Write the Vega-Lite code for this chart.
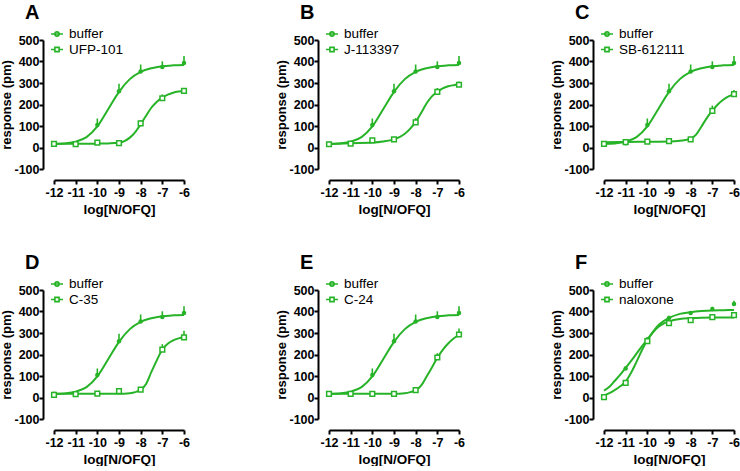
{
  "$schema": "https://vega.github.io/schema/vega-lite/v6.json",
  "padding": {"left": 0, "top": 3, "right": 0, "bottom": 0},
  "datasets": {
    "pts": [
      {"panel": "A", "series": "buffer", "x": -12, "y": 18, "hi": 23},
      {"panel": "A", "series": "buffer", "x": -11, "y": 20, "hi": 25},
      {"panel": "A", "series": "buffer", "x": -10, "y": 105, "hi": 135},
      {"panel": "A", "series": "buffer", "x": -9, "y": 262, "hi": 297},
      {"panel": "A", "series": "buffer", "x": -8, "y": 353, "hi": 386},
      {"panel": "A", "series": "buffer", "x": -7, "y": 374, "hi": 401},
      {"panel": "A", "series": "buffer", "x": -6, "y": 393, "hi": 425},
      {"panel": "A", "series": "UFP-101", "x": -12, "y": 17, "hi": 20},
      {"panel": "A", "series": "UFP-101", "x": -11, "y": 16, "hi": 19},
      {"panel": "A", "series": "UFP-101", "x": -10, "y": 23, "hi": 31},
      {"panel": "A", "series": "UFP-101", "x": -9, "y": 20, "hi": 24},
      {"panel": "A", "series": "UFP-101", "x": -8, "y": 112, "hi": 127},
      {"panel": "A", "series": "UFP-101", "x": -7, "y": 229, "hi": 247},
      {"panel": "A", "series": "UFP-101", "x": -6, "y": 263, "hi": 271},
      {"panel": "B", "series": "buffer", "x": -12, "y": 18, "hi": 23},
      {"panel": "B", "series": "buffer", "x": -11, "y": 20, "hi": 25},
      {"panel": "B", "series": "buffer", "x": -10, "y": 105, "hi": 135},
      {"panel": "B", "series": "buffer", "x": -9, "y": 262, "hi": 297},
      {"panel": "B", "series": "buffer", "x": -8, "y": 353, "hi": 386},
      {"panel": "B", "series": "buffer", "x": -7, "y": 374, "hi": 401},
      {"panel": "B", "series": "buffer", "x": -6, "y": 393, "hi": 425},
      {"panel": "B", "series": "J-113397", "x": -12, "y": 15, "hi": 18},
      {"panel": "B", "series": "J-113397", "x": -11, "y": 18, "hi": 21},
      {"panel": "B", "series": "J-113397", "x": -10, "y": 33, "hi": 45},
      {"panel": "B", "series": "J-113397", "x": -9, "y": 38, "hi": 43},
      {"panel": "B", "series": "J-113397", "x": -8, "y": 117, "hi": 137},
      {"panel": "B", "series": "J-113397", "x": -7, "y": 259, "hi": 277},
      {"panel": "B", "series": "J-113397", "x": -6, "y": 292, "hi": 307},
      {"panel": "C", "series": "buffer", "x": -12, "y": 18, "hi": 23},
      {"panel": "C", "series": "buffer", "x": -11, "y": 20, "hi": 25},
      {"panel": "C", "series": "buffer", "x": -10, "y": 105, "hi": 135},
      {"panel": "C", "series": "buffer", "x": -9, "y": 262, "hi": 297},
      {"panel": "C", "series": "buffer", "x": -8, "y": 353, "hi": 386},
      {"panel": "C", "series": "buffer", "x": -7, "y": 374, "hi": 401},
      {"panel": "C", "series": "buffer", "x": -6, "y": 393, "hi": 425},
      {"panel": "C", "series": "SB-612111", "x": -12, "y": 17, "hi": 20},
      {"panel": "C", "series": "SB-612111", "x": -11, "y": 25, "hi": 30},
      {"panel": "C", "series": "SB-612111", "x": -10, "y": 27, "hi": 31},
      {"panel": "C", "series": "SB-612111", "x": -9, "y": 30, "hi": 35},
      {"panel": "C", "series": "SB-612111", "x": -8, "y": 38, "hi": 48},
      {"panel": "C", "series": "SB-612111", "x": -7, "y": 170, "hi": 195},
      {"panel": "C", "series": "SB-612111", "x": -6, "y": 248, "hi": 268},
      {"panel": "D", "series": "buffer", "x": -12, "y": 18, "hi": 23},
      {"panel": "D", "series": "buffer", "x": -11, "y": 20, "hi": 25},
      {"panel": "D", "series": "buffer", "x": -10, "y": 105, "hi": 135},
      {"panel": "D", "series": "buffer", "x": -9, "y": 262, "hi": 297},
      {"panel": "D", "series": "buffer", "x": -8, "y": 353, "hi": 386},
      {"panel": "D", "series": "buffer", "x": -7, "y": 374, "hi": 401},
      {"panel": "D", "series": "buffer", "x": -6, "y": 393, "hi": 425},
      {"panel": "D", "series": "C-35", "x": -12, "y": 12, "hi": 17},
      {"panel": "D", "series": "C-35", "x": -11, "y": 16, "hi": 20},
      {"panel": "D", "series": "C-35", "x": -10, "y": 18, "hi": 22},
      {"panel": "D", "series": "C-35", "x": -9, "y": 30, "hi": 38},
      {"panel": "D", "series": "C-35", "x": -8, "y": 37, "hi": 43},
      {"panel": "D", "series": "C-35", "x": -7, "y": 223, "hi": 248},
      {"panel": "D", "series": "C-35", "x": -6, "y": 280, "hi": 310},
      {"panel": "E", "series": "buffer", "x": -12, "y": 18, "hi": 23},
      {"panel": "E", "series": "buffer", "x": -11, "y": 20, "hi": 25},
      {"panel": "E", "series": "buffer", "x": -10, "y": 105, "hi": 135},
      {"panel": "E", "series": "buffer", "x": -9, "y": 262, "hi": 297},
      {"panel": "E", "series": "buffer", "x": -8, "y": 353, "hi": 386},
      {"panel": "E", "series": "buffer", "x": -7, "y": 374, "hi": 401},
      {"panel": "E", "series": "buffer", "x": -6, "y": 393, "hi": 425},
      {"panel": "E", "series": "C-24", "x": -12, "y": 17, "hi": 21},
      {"panel": "E", "series": "C-24", "x": -11, "y": 17, "hi": 20},
      {"panel": "E", "series": "C-24", "x": -10, "y": 17, "hi": 20},
      {"panel": "E", "series": "C-24", "x": -9, "y": 17, "hi": 20},
      {"panel": "E", "series": "C-24", "x": -8, "y": 34, "hi": 40},
      {"panel": "E", "series": "C-24", "x": -7, "y": 186, "hi": 206},
      {"panel": "E", "series": "C-24", "x": -6, "y": 293, "hi": 321},
      {"panel": "F", "series": "buffer", "x": -12, "y": 3, "hi": 6},
      {"panel": "F", "series": "buffer", "x": -11, "y": 135, "hi": 145},
      {"panel": "F", "series": "buffer", "x": -10, "y": 270, "hi": 280},
      {"panel": "F", "series": "buffer", "x": -9, "y": 370, "hi": 380},
      {"panel": "F", "series": "buffer", "x": -8, "y": 393, "hi": 401},
      {"panel": "F", "series": "buffer", "x": -7, "y": 412, "hi": 422},
      {"panel": "F", "series": "buffer", "x": -6, "y": 435, "hi": 450},
      {"panel": "F", "series": "naloxone", "x": -12, "y": 2, "hi": 5},
      {"panel": "F", "series": "naloxone", "x": -11, "y": 68, "hi": 78},
      {"panel": "F", "series": "naloxone", "x": -10, "y": 262, "hi": 272},
      {"panel": "F", "series": "naloxone", "x": -9, "y": 346, "hi": 352},
      {"panel": "F", "series": "naloxone", "x": -8, "y": 360, "hi": 366},
      {"panel": "F", "series": "naloxone", "x": -7, "y": 374, "hi": 379},
      {"panel": "F", "series": "naloxone", "x": -6, "y": 383, "hi": 389}
    ],
    "crv": [
      {"panel": "A", "series": "buffer", "x": -12, "y": 16},
      {"panel": "A", "series": "buffer", "x": -11.5, "y": 19},
      {"panel": "A", "series": "buffer", "x": -11, "y": 27},
      {"panel": "A", "series": "buffer", "x": -10.5, "y": 48},
      {"panel": "A", "series": "buffer", "x": -10, "y": 98},
      {"panel": "A", "series": "buffer", "x": -9.5, "y": 178},
      {"panel": "A", "series": "buffer", "x": -9, "y": 259},
      {"panel": "A", "series": "buffer", "x": -8.5, "y": 318},
      {"panel": "A", "series": "buffer", "x": -8, "y": 352},
      {"panel": "A", "series": "buffer", "x": -7.5, "y": 369},
      {"panel": "A", "series": "buffer", "x": -7, "y": 378},
      {"panel": "A", "series": "buffer", "x": -6.5, "y": 382},
      {"panel": "A", "series": "buffer", "x": -6, "y": 384},
      {"panel": "A", "series": "UFP-101", "x": -12, "y": 17},
      {"panel": "A", "series": "UFP-101", "x": -11, "y": 17},
      {"panel": "A", "series": "UFP-101", "x": -10, "y": 18},
      {"panel": "A", "series": "UFP-101", "x": -9.5, "y": 19},
      {"panel": "A", "series": "UFP-101", "x": -9, "y": 22},
      {"panel": "A", "series": "UFP-101", "x": -8.75, "y": 30},
      {"panel": "A", "series": "UFP-101", "x": -8.5, "y": 46},
      {"panel": "A", "series": "UFP-101", "x": -8.25, "y": 72},
      {"panel": "A", "series": "UFP-101", "x": -8, "y": 108},
      {"panel": "A", "series": "UFP-101", "x": -7.75, "y": 148},
      {"panel": "A", "series": "UFP-101", "x": -7.5, "y": 186},
      {"panel": "A", "series": "UFP-101", "x": -7.25, "y": 213},
      {"panel": "A", "series": "UFP-101", "x": -7, "y": 232},
      {"panel": "A", "series": "UFP-101", "x": -6.75, "y": 246},
      {"panel": "A", "series": "UFP-101", "x": -6.5, "y": 255},
      {"panel": "A", "series": "UFP-101", "x": -6.25, "y": 260},
      {"panel": "A", "series": "UFP-101", "x": -6, "y": 263},
      {"panel": "B", "series": "buffer", "x": -12, "y": 16},
      {"panel": "B", "series": "buffer", "x": -11.5, "y": 19},
      {"panel": "B", "series": "buffer", "x": -11, "y": 27},
      {"panel": "B", "series": "buffer", "x": -10.5, "y": 48},
      {"panel": "B", "series": "buffer", "x": -10, "y": 98},
      {"panel": "B", "series": "buffer", "x": -9.5, "y": 178},
      {"panel": "B", "series": "buffer", "x": -9, "y": 259},
      {"panel": "B", "series": "buffer", "x": -8.5, "y": 318},
      {"panel": "B", "series": "buffer", "x": -8, "y": 352},
      {"panel": "B", "series": "buffer", "x": -7.5, "y": 369},
      {"panel": "B", "series": "buffer", "x": -7, "y": 378},
      {"panel": "B", "series": "buffer", "x": -6.5, "y": 382},
      {"panel": "B", "series": "buffer", "x": -6, "y": 384},
      {"panel": "B", "series": "J-113397", "x": -12, "y": 16},
      {"panel": "B", "series": "J-113397", "x": -11, "y": 20},
      {"panel": "B", "series": "J-113397", "x": -10, "y": 23},
      {"panel": "B", "series": "J-113397", "x": -9.5, "y": 28},
      {"panel": "B", "series": "J-113397", "x": -9, "y": 38},
      {"panel": "B", "series": "J-113397", "x": -8.75, "y": 48},
      {"panel": "B", "series": "J-113397", "x": -8.5, "y": 64},
      {"panel": "B", "series": "J-113397", "x": -8.25, "y": 88},
      {"panel": "B", "series": "J-113397", "x": -8, "y": 119},
      {"panel": "B", "series": "J-113397", "x": -7.75, "y": 160},
      {"panel": "B", "series": "J-113397", "x": -7.5, "y": 205},
      {"panel": "B", "series": "J-113397", "x": -7.25, "y": 238},
      {"panel": "B", "series": "J-113397", "x": -7, "y": 259},
      {"panel": "B", "series": "J-113397", "x": -6.75, "y": 275},
      {"panel": "B", "series": "J-113397", "x": -6.5, "y": 285},
      {"panel": "B", "series": "J-113397", "x": -6.25, "y": 290},
      {"panel": "B", "series": "J-113397", "x": -6, "y": 294},
      {"panel": "C", "series": "buffer", "x": -12, "y": 16},
      {"panel": "C", "series": "buffer", "x": -11.5, "y": 19},
      {"panel": "C", "series": "buffer", "x": -11, "y": 27},
      {"panel": "C", "series": "buffer", "x": -10.5, "y": 48},
      {"panel": "C", "series": "buffer", "x": -10, "y": 98},
      {"panel": "C", "series": "buffer", "x": -9.5, "y": 178},
      {"panel": "C", "series": "buffer", "x": -9, "y": 259},
      {"panel": "C", "series": "buffer", "x": -8.5, "y": 318},
      {"panel": "C", "series": "buffer", "x": -8, "y": 352},
      {"panel": "C", "series": "buffer", "x": -7.5, "y": 369},
      {"panel": "C", "series": "buffer", "x": -7, "y": 378},
      {"panel": "C", "series": "buffer", "x": -6.5, "y": 382},
      {"panel": "C", "series": "buffer", "x": -6, "y": 384},
      {"panel": "C", "series": "SB-612111", "x": -12, "y": 24},
      {"panel": "C", "series": "SB-612111", "x": -11, "y": 26},
      {"panel": "C", "series": "SB-612111", "x": -10, "y": 27},
      {"panel": "C", "series": "SB-612111", "x": -9, "y": 28},
      {"panel": "C", "series": "SB-612111", "x": -8.5, "y": 31},
      {"panel": "C", "series": "SB-612111", "x": -8.25, "y": 35},
      {"panel": "C", "series": "SB-612111", "x": -8, "y": 41},
      {"panel": "C", "series": "SB-612111", "x": -7.75, "y": 60},
      {"panel": "C", "series": "SB-612111", "x": -7.5, "y": 98},
      {"panel": "C", "series": "SB-612111", "x": -7.25, "y": 138},
      {"panel": "C", "series": "SB-612111", "x": -7, "y": 171},
      {"panel": "C", "series": "SB-612111", "x": -6.75, "y": 200},
      {"panel": "C", "series": "SB-612111", "x": -6.5, "y": 222},
      {"panel": "C", "series": "SB-612111", "x": -6.25, "y": 238},
      {"panel": "C", "series": "SB-612111", "x": -6, "y": 248},
      {"panel": "D", "series": "buffer", "x": -12, "y": 16},
      {"panel": "D", "series": "buffer", "x": -11.5, "y": 19},
      {"panel": "D", "series": "buffer", "x": -11, "y": 27},
      {"panel": "D", "series": "buffer", "x": -10.5, "y": 48},
      {"panel": "D", "series": "buffer", "x": -10, "y": 98},
      {"panel": "D", "series": "buffer", "x": -9.5, "y": 178},
      {"panel": "D", "series": "buffer", "x": -9, "y": 259},
      {"panel": "D", "series": "buffer", "x": -8.5, "y": 318},
      {"panel": "D", "series": "buffer", "x": -8, "y": 352},
      {"panel": "D", "series": "buffer", "x": -7.5, "y": 369},
      {"panel": "D", "series": "buffer", "x": -7, "y": 378},
      {"panel": "D", "series": "buffer", "x": -6.5, "y": 382},
      {"panel": "D", "series": "buffer", "x": -6, "y": 384},
      {"panel": "D", "series": "C-35", "x": -12, "y": 17},
      {"panel": "D", "series": "C-35", "x": -10, "y": 17},
      {"panel": "D", "series": "C-35", "x": -9, "y": 17},
      {"panel": "D", "series": "C-35", "x": -8.5, "y": 20},
      {"panel": "D", "series": "C-35", "x": -8.25, "y": 25},
      {"panel": "D", "series": "C-35", "x": -8, "y": 36},
      {"panel": "D", "series": "C-35", "x": -7.75, "y": 63},
      {"panel": "D", "series": "C-35", "x": -7.5, "y": 120},
      {"panel": "D", "series": "C-35", "x": -7.25, "y": 174},
      {"panel": "D", "series": "C-35", "x": -7, "y": 223},
      {"panel": "D", "series": "C-35", "x": -6.75, "y": 250},
      {"panel": "D", "series": "C-35", "x": -6.5, "y": 266},
      {"panel": "D", "series": "C-35", "x": -6.25, "y": 275},
      {"panel": "D", "series": "C-35", "x": -6, "y": 280},
      {"panel": "E", "series": "buffer", "x": -12, "y": 16},
      {"panel": "E", "series": "buffer", "x": -11.5, "y": 19},
      {"panel": "E", "series": "buffer", "x": -11, "y": 27},
      {"panel": "E", "series": "buffer", "x": -10.5, "y": 48},
      {"panel": "E", "series": "buffer", "x": -10, "y": 98},
      {"panel": "E", "series": "buffer", "x": -9.5, "y": 178},
      {"panel": "E", "series": "buffer", "x": -9, "y": 259},
      {"panel": "E", "series": "buffer", "x": -8.5, "y": 318},
      {"panel": "E", "series": "buffer", "x": -8, "y": 352},
      {"panel": "E", "series": "buffer", "x": -7.5, "y": 369},
      {"panel": "E", "series": "buffer", "x": -7, "y": 378},
      {"panel": "E", "series": "buffer", "x": -6.5, "y": 382},
      {"panel": "E", "series": "buffer", "x": -6, "y": 384},
      {"panel": "E", "series": "C-24", "x": -12, "y": 17},
      {"panel": "E", "series": "C-24", "x": -10, "y": 17},
      {"panel": "E", "series": "C-24", "x": -9, "y": 17},
      {"panel": "E", "series": "C-24", "x": -8.5, "y": 20},
      {"panel": "E", "series": "C-24", "x": -8.25, "y": 25},
      {"panel": "E", "series": "C-24", "x": -8, "y": 33},
      {"panel": "E", "series": "C-24", "x": -7.75, "y": 55},
      {"panel": "E", "series": "C-24", "x": -7.5, "y": 97},
      {"panel": "E", "series": "C-24", "x": -7.25, "y": 140},
      {"panel": "E", "series": "C-24", "x": -7, "y": 185},
      {"panel": "E", "series": "C-24", "x": -6.75, "y": 222},
      {"panel": "E", "series": "C-24", "x": -6.5, "y": 251},
      {"panel": "E", "series": "C-24", "x": -6.25, "y": 274},
      {"panel": "E", "series": "C-24", "x": -6, "y": 292},
      {"panel": "F", "series": "buffer", "x": -12, "y": 32},
      {"panel": "F", "series": "buffer", "x": -11.75, "y": 50},
      {"panel": "F", "series": "buffer", "x": -11.5, "y": 78},
      {"panel": "F", "series": "buffer", "x": -11.25, "y": 106},
      {"panel": "F", "series": "buffer", "x": -11, "y": 138},
      {"panel": "F", "series": "buffer", "x": -10.75, "y": 170},
      {"panel": "F", "series": "buffer", "x": -10.5, "y": 204},
      {"panel": "F", "series": "buffer", "x": -10.25, "y": 238},
      {"panel": "F", "series": "buffer", "x": -10, "y": 269},
      {"panel": "F", "series": "buffer", "x": -9.75, "y": 304},
      {"panel": "F", "series": "buffer", "x": -9.5, "y": 335},
      {"panel": "F", "series": "buffer", "x": -9.25, "y": 355},
      {"panel": "F", "series": "buffer", "x": -9, "y": 370},
      {"panel": "F", "series": "buffer", "x": -8.5, "y": 389},
      {"panel": "F", "series": "buffer", "x": -8, "y": 397},
      {"panel": "F", "series": "buffer", "x": -7.5, "y": 402},
      {"panel": "F", "series": "buffer", "x": -7, "y": 405},
      {"panel": "F", "series": "buffer", "x": -6.5, "y": 406},
      {"panel": "F", "series": "buffer", "x": -6, "y": 407},
      {"panel": "F", "series": "naloxone", "x": -12, "y": 10},
      {"panel": "F", "series": "naloxone", "x": -11.75, "y": 20},
      {"panel": "F", "series": "naloxone", "x": -11.5, "y": 35},
      {"panel": "F", "series": "naloxone", "x": -11.25, "y": 52},
      {"panel": "F", "series": "naloxone", "x": -11, "y": 74},
      {"panel": "F", "series": "naloxone", "x": -10.75, "y": 115},
      {"panel": "F", "series": "naloxone", "x": -10.5, "y": 166},
      {"panel": "F", "series": "naloxone", "x": -10.25, "y": 220},
      {"panel": "F", "series": "naloxone", "x": -10, "y": 266},
      {"panel": "F", "series": "naloxone", "x": -9.75, "y": 302},
      {"panel": "F", "series": "naloxone", "x": -9.5, "y": 328},
      {"panel": "F", "series": "naloxone", "x": -9.25, "y": 344},
      {"panel": "F", "series": "naloxone", "x": -9, "y": 354},
      {"panel": "F", "series": "naloxone", "x": -8.5, "y": 365},
      {"panel": "F", "series": "naloxone", "x": -8, "y": 369},
      {"panel": "F", "series": "naloxone", "x": -7, "y": 372},
      {"panel": "F", "series": "naloxone", "x": -6, "y": 372}
    ]
  },
  "columns": 3,
  "spacing": {"row": 37, "column": 85},
  "resolve": {
    "scale": {"x": "independent", "y": "independent", "shape": "independent"},
    "legend": {"shape": "independent"}
  },
  "concat": [
    {
      "title": {"text": "A"},
      "width": 130, "height": 129,
      "encoding": {
        "x": {"field": "x", "type": "quantitative", "scale": {"domain": [-12, -6], "nice": false, "zero": false}, "axis": {"title": "log[N/OFQ]", "values": [-12, -11, -10, -9, -8, -7, -6]}},
        "y": {"field": "y", "type": "quantitative", "scale": {"domain": [-100, 500], "nice": false}, "axis": {"title": "response (pm)", "values": [-100, 0, 100, 200, 300, 400, 500]}}
      },
      "layer": [
        {"data": {"name": "crv"}, "transform": [{"filter": "datum.panel == 'A'"}], "mark": {"type": "line", "color": "#27b327", "strokeWidth": 2, "interpolate": "monotone"}, "encoding": {"detail": {"field": "series"}}},
        {"data": {"name": "pts"}, "transform": [{"filter": "datum.panel == 'A'"}], "mark": {"type": "rule", "color": "#27b327", "strokeWidth": 1.6}, "encoding": {"y2": {"field": "hi"}}},
        {"data": {"name": "pts"}, "transform": [{"filter": "datum.panel == 'A' && datum.series == 'buffer'"}], "mark": {"type": "point", "shape": "circle", "filled": true, "color": "#27b327", "size": 20, "opacity": 1}},
        {"data": {"name": "pts"}, "transform": [{"filter": "datum.panel == 'A' && datum.series != 'buffer'"}], "mark": {"type": "point", "shape": "square", "fill": "white", "stroke": "#27b327", "strokeWidth": 1.5, "size": 22, "opacity": 1}},
        {"data": {"name": "pts"}, "transform": [{"filter": "datum.panel == 'A'"}], "mark": {"type": "point", "opacity": 0, "stroke": "#27b327"},
         "encoding": {
           "shape": {"field": "series", "type": "nominal", "scale": {"domain": ["buffer", "UFP-101"], "range": ["M-1,0H1M-0.35,0A0.35,0.35,0,1,1,0.35,0A0.35,0.35,0,1,1,-0.35,0Z", "M-1,0H-0.35M0.35,0H1M-0.35,-0.35H0.35V0.35H-0.35Z"]},
             "legend": {"title": null, "orient": "none", "legendX": -4, "legendY": -13,
               "encode": {"symbols": {"update": {"opacity": {"value": 1}, "size": {"value": 144}, "stroke": {"value": "#27b327"}, "strokeWidth": {"value": 1.6},
                 "fill": {"signal": "datum.value === 'buffer' ? '#27b327' : 'white'"},
                 "shape": {"signal": "datum.value === 'buffer' ? 'M-1,0H1M-0.35,0A0.35,0.35,0,1,1,0.35,0A0.35,0.35,0,1,1,-0.35,0Z' : 'M-1,0H-0.35M0.35,0H1M-0.35,-0.35H0.35V0.35H-0.35Z'"}}}}}}
         }}
      ]
    },
    {
      "title": {"text": "B"},
      "width": 130, "height": 129,
      "encoding": {
        "x": {"field": "x", "type": "quantitative", "scale": {"domain": [-12, -6], "nice": false, "zero": false}, "axis": {"title": "log[N/OFQ]", "values": [-12, -11, -10, -9, -8, -7, -6]}},
        "y": {"field": "y", "type": "quantitative", "scale": {"domain": [-100, 500], "nice": false}, "axis": {"title": "response (pm)", "values": [-100, 0, 100, 200, 300, 400, 500]}}
      },
      "layer": [
        {"data": {"name": "crv"}, "transform": [{"filter": "datum.panel == 'B'"}], "mark": {"type": "line", "color": "#27b327", "strokeWidth": 2, "interpolate": "monotone"}, "encoding": {"detail": {"field": "series"}}},
        {"data": {"name": "pts"}, "transform": [{"filter": "datum.panel == 'B'"}], "mark": {"type": "rule", "color": "#27b327", "strokeWidth": 1.6}, "encoding": {"y2": {"field": "hi"}}},
        {"data": {"name": "pts"}, "transform": [{"filter": "datum.panel == 'B' && datum.series == 'buffer'"}], "mark": {"type": "point", "shape": "circle", "filled": true, "color": "#27b327", "size": 20, "opacity": 1}},
        {"data": {"name": "pts"}, "transform": [{"filter": "datum.panel == 'B' && datum.series != 'buffer'"}], "mark": {"type": "point", "shape": "square", "fill": "white", "stroke": "#27b327", "strokeWidth": 1.5, "size": 22, "opacity": 1}},
        {"data": {"name": "pts"}, "transform": [{"filter": "datum.panel == 'B'"}], "mark": {"type": "point", "opacity": 0, "stroke": "#27b327"},
         "encoding": {
           "shape": {"field": "series", "type": "nominal", "scale": {"domain": ["buffer", "J-113397"], "range": ["M-1,0H1M-0.35,0A0.35,0.35,0,1,1,0.35,0A0.35,0.35,0,1,1,-0.35,0Z", "M-1,0H-0.35M0.35,0H1M-0.35,-0.35H0.35V0.35H-0.35Z"]},
             "legend": {"title": null, "orient": "none", "legendX": -4, "legendY": -13,
               "encode": {"symbols": {"update": {"opacity": {"value": 1}, "size": {"value": 144}, "stroke": {"value": "#27b327"}, "strokeWidth": {"value": 1.6},
                 "fill": {"signal": "datum.value === 'buffer' ? '#27b327' : 'white'"},
                 "shape": {"signal": "datum.value === 'buffer' ? 'M-1,0H1M-0.35,0A0.35,0.35,0,1,1,0.35,0A0.35,0.35,0,1,1,-0.35,0Z' : 'M-1,0H-0.35M0.35,0H1M-0.35,-0.35H0.35V0.35H-0.35Z'"}}}}}}
         }}
      ]
    },
    {
      "title": {"text": "C"},
      "width": 130, "height": 129,
      "encoding": {
        "x": {"field": "x", "type": "quantitative", "scale": {"domain": [-12, -6], "nice": false, "zero": false}, "axis": {"title": "log[N/OFQ]", "values": [-12, -11, -10, -9, -8, -7, -6]}},
        "y": {"field": "y", "type": "quantitative", "scale": {"domain": [-100, 500], "nice": false}, "axis": {"title": "response (pm)", "values": [-100, 0, 100, 200, 300, 400, 500]}}
      },
      "layer": [
        {"data": {"name": "crv"}, "transform": [{"filter": "datum.panel == 'C'"}], "mark": {"type": "line", "color": "#27b327", "strokeWidth": 2, "interpolate": "monotone"}, "encoding": {"detail": {"field": "series"}}},
        {"data": {"name": "pts"}, "transform": [{"filter": "datum.panel == 'C'"}], "mark": {"type": "rule", "color": "#27b327", "strokeWidth": 1.6}, "encoding": {"y2": {"field": "hi"}}},
        {"data": {"name": "pts"}, "transform": [{"filter": "datum.panel == 'C' && datum.series == 'buffer'"}], "mark": {"type": "point", "shape": "circle", "filled": true, "color": "#27b327", "size": 20, "opacity": 1}},
        {"data": {"name": "pts"}, "transform": [{"filter": "datum.panel == 'C' && datum.series != 'buffer'"}], "mark": {"type": "point", "shape": "square", "fill": "white", "stroke": "#27b327", "strokeWidth": 1.5, "size": 22, "opacity": 1}},
        {"data": {"name": "pts"}, "transform": [{"filter": "datum.panel == 'C'"}], "mark": {"type": "point", "opacity": 0, "stroke": "#27b327"},
         "encoding": {
           "shape": {"field": "series", "type": "nominal", "scale": {"domain": ["buffer", "SB-612111"], "range": ["M-1,0H1M-0.35,0A0.35,0.35,0,1,1,0.35,0A0.35,0.35,0,1,1,-0.35,0Z", "M-1,0H-0.35M0.35,0H1M-0.35,-0.35H0.35V0.35H-0.35Z"]},
             "legend": {"title": null, "orient": "none", "legendX": -4, "legendY": -13,
               "encode": {"symbols": {"update": {"opacity": {"value": 1}, "size": {"value": 144}, "stroke": {"value": "#27b327"}, "strokeWidth": {"value": 1.6},
                 "fill": {"signal": "datum.value === 'buffer' ? '#27b327' : 'white'"},
                 "shape": {"signal": "datum.value === 'buffer' ? 'M-1,0H1M-0.35,0A0.35,0.35,0,1,1,0.35,0A0.35,0.35,0,1,1,-0.35,0Z' : 'M-1,0H-0.35M0.35,0H1M-0.35,-0.35H0.35V0.35H-0.35Z'"}}}}}}
         }}
      ]
    },
    {
      "title": {"text": "D"},
      "width": 130, "height": 129,
      "encoding": {
        "x": {"field": "x", "type": "quantitative", "scale": {"domain": [-12, -6], "nice": false, "zero": false}, "axis": {"title": "log[N/OFQ]", "values": [-12, -11, -10, -9, -8, -7, -6]}},
        "y": {"field": "y", "type": "quantitative", "scale": {"domain": [-100, 500], "nice": false}, "axis": {"title": "response (pm)", "values": [-100, 0, 100, 200, 300, 400, 500]}}
      },
      "layer": [
        {"data": {"name": "crv"}, "transform": [{"filter": "datum.panel == 'D'"}], "mark": {"type": "line", "color": "#27b327", "strokeWidth": 2, "interpolate": "monotone"}, "encoding": {"detail": {"field": "series"}}},
        {"data": {"name": "pts"}, "transform": [{"filter": "datum.panel == 'D'"}], "mark": {"type": "rule", "color": "#27b327", "strokeWidth": 1.6}, "encoding": {"y2": {"field": "hi"}}},
        {"data": {"name": "pts"}, "transform": [{"filter": "datum.panel == 'D' && datum.series == 'buffer'"}], "mark": {"type": "point", "shape": "circle", "filled": true, "color": "#27b327", "size": 20, "opacity": 1}},
        {"data": {"name": "pts"}, "transform": [{"filter": "datum.panel == 'D' && datum.series != 'buffer'"}], "mark": {"type": "point", "shape": "square", "fill": "white", "stroke": "#27b327", "strokeWidth": 1.5, "size": 22, "opacity": 1}},
        {"data": {"name": "pts"}, "transform": [{"filter": "datum.panel == 'D'"}], "mark": {"type": "point", "opacity": 0, "stroke": "#27b327"},
         "encoding": {
           "shape": {"field": "series", "type": "nominal", "scale": {"domain": ["buffer", "C-35"], "range": ["M-1,0H1M-0.35,0A0.35,0.35,0,1,1,0.35,0A0.35,0.35,0,1,1,-0.35,0Z", "M-1,0H-0.35M0.35,0H1M-0.35,-0.35H0.35V0.35H-0.35Z"]},
             "legend": {"title": null, "orient": "none", "legendX": -4, "legendY": -13,
               "encode": {"symbols": {"update": {"opacity": {"value": 1}, "size": {"value": 144}, "stroke": {"value": "#27b327"}, "strokeWidth": {"value": 1.6},
                 "fill": {"signal": "datum.value === 'buffer' ? '#27b327' : 'white'"},
                 "shape": {"signal": "datum.value === 'buffer' ? 'M-1,0H1M-0.35,0A0.35,0.35,0,1,1,0.35,0A0.35,0.35,0,1,1,-0.35,0Z' : 'M-1,0H-0.35M0.35,0H1M-0.35,-0.35H0.35V0.35H-0.35Z'"}}}}}}
         }}
      ]
    },
    {
      "title": {"text": "E"},
      "width": 130, "height": 129,
      "encoding": {
        "x": {"field": "x", "type": "quantitative", "scale": {"domain": [-12, -6], "nice": false, "zero": false}, "axis": {"title": "log[N/OFQ]", "values": [-12, -11, -10, -9, -8, -7, -6]}},
        "y": {"field": "y", "type": "quantitative", "scale": {"domain": [-100, 500], "nice": false}, "axis": {"title": "response (pm)", "values": [-100, 0, 100, 200, 300, 400, 500]}}
      },
      "layer": [
        {"data": {"name": "crv"}, "transform": [{"filter": "datum.panel == 'E'"}], "mark": {"type": "line", "color": "#27b327", "strokeWidth": 2, "interpolate": "monotone"}, "encoding": {"detail": {"field": "series"}}},
        {"data": {"name": "pts"}, "transform": [{"filter": "datum.panel == 'E'"}], "mark": {"type": "rule", "color": "#27b327", "strokeWidth": 1.6}, "encoding": {"y2": {"field": "hi"}}},
        {"data": {"name": "pts"}, "transform": [{"filter": "datum.panel == 'E' && datum.series == 'buffer'"}], "mark": {"type": "point", "shape": "circle", "filled": true, "color": "#27b327", "size": 20, "opacity": 1}},
        {"data": {"name": "pts"}, "transform": [{"filter": "datum.panel == 'E' && datum.series != 'buffer'"}], "mark": {"type": "point", "shape": "square", "fill": "white", "stroke": "#27b327", "strokeWidth": 1.5, "size": 22, "opacity": 1}},
        {"data": {"name": "pts"}, "transform": [{"filter": "datum.panel == 'E'"}], "mark": {"type": "point", "opacity": 0, "stroke": "#27b327"},
         "encoding": {
           "shape": {"field": "series", "type": "nominal", "scale": {"domain": ["buffer", "C-24"], "range": ["M-1,0H1M-0.35,0A0.35,0.35,0,1,1,0.35,0A0.35,0.35,0,1,1,-0.35,0Z", "M-1,0H-0.35M0.35,0H1M-0.35,-0.35H0.35V0.35H-0.35Z"]},
             "legend": {"title": null, "orient": "none", "legendX": -4, "legendY": -13,
               "encode": {"symbols": {"update": {"opacity": {"value": 1}, "size": {"value": 144}, "stroke": {"value": "#27b327"}, "strokeWidth": {"value": 1.6},
                 "fill": {"signal": "datum.value === 'buffer' ? '#27b327' : 'white'"},
                 "shape": {"signal": "datum.value === 'buffer' ? 'M-1,0H1M-0.35,0A0.35,0.35,0,1,1,0.35,0A0.35,0.35,0,1,1,-0.35,0Z' : 'M-1,0H-0.35M0.35,0H1M-0.35,-0.35H0.35V0.35H-0.35Z'"}}}}}}
         }}
      ]
    },
    {
      "title": {"text": "F"},
      "width": 130, "height": 129,
      "encoding": {
        "x": {"field": "x", "type": "quantitative", "scale": {"domain": [-12, -6], "nice": false, "zero": false}, "axis": {"title": "log[N/OFQ]", "values": [-12, -11, -10, -9, -8, -7, -6]}},
        "y": {"field": "y", "type": "quantitative", "scale": {"domain": [-100, 500], "nice": false}, "axis": {"title": "response (pm)", "values": [-100, 0, 100, 200, 300, 400, 500]}}
      },
      "layer": [
        {"data": {"name": "crv"}, "transform": [{"filter": "datum.panel == 'F'"}], "mark": {"type": "line", "color": "#27b327", "strokeWidth": 2, "interpolate": "monotone"}, "encoding": {"detail": {"field": "series"}}},
        {"data": {"name": "pts"}, "transform": [{"filter": "datum.panel == 'F'"}], "mark": {"type": "rule", "color": "#27b327", "strokeWidth": 1.6}, "encoding": {"y2": {"field": "hi"}}},
        {"data": {"name": "pts"}, "transform": [{"filter": "datum.panel == 'F' && datum.series == 'buffer'"}], "mark": {"type": "point", "shape": "circle", "filled": true, "color": "#27b327", "size": 20, "opacity": 1}},
        {"data": {"name": "pts"}, "transform": [{"filter": "datum.panel == 'F' && datum.series != 'buffer'"}], "mark": {"type": "point", "shape": "square", "fill": "white", "stroke": "#27b327", "strokeWidth": 1.5, "size": 22, "opacity": 1}},
        {"data": {"name": "pts"}, "transform": [{"filter": "datum.panel == 'F'"}], "mark": {"type": "point", "opacity": 0, "stroke": "#27b327"},
         "encoding": {
           "shape": {"field": "series", "type": "nominal", "scale": {"domain": ["buffer", "naloxone"], "range": ["M-1,0H1M-0.35,0A0.35,0.35,0,1,1,0.35,0A0.35,0.35,0,1,1,-0.35,0Z", "M-1,0H-0.35M0.35,0H1M-0.35,-0.35H0.35V0.35H-0.35Z"]},
             "legend": {"title": null, "orient": "none", "legendX": -4, "legendY": -13,
               "encode": {"symbols": {"update": {"opacity": {"value": 1}, "size": {"value": 144}, "stroke": {"value": "#27b327"}, "strokeWidth": {"value": 1.6},
                 "fill": {"signal": "datum.value === 'buffer' ? '#27b327' : 'white'"},
                 "shape": {"signal": "datum.value === 'buffer' ? 'M-1,0H1M-0.35,0A0.35,0.35,0,1,1,0.35,0A0.35,0.35,0,1,1,-0.35,0Z' : 'M-1,0H-0.35M0.35,0H1M-0.35,-0.35H0.35V0.35H-0.35Z'"}}}}}}
         }}
      ]
    }
  ],
  "config": {
    "font": "Liberation Sans",
    "view": {"stroke": null},
    "axis": {
      "grid": false, "domainColor": "black", "domainWidth": 2, "tickColor": "black", "tickWidth": 2, "tickSize": 4,
      "labelFont": "Liberation Sans", "labelFontSize": 12.5, "labelFontWeight": "bold", "labelColor": "black",
      "titleFont": "Liberation Sans", "titleFontWeight": "bold", "titleColor": "black",
      "labelOverlap": false, "labelFlush": false, "labelBound": false, "offset": 11,
      "labelExpr": "'' + datum.value"
    },
    "axisX": {"labelPadding": 2, "titlePadding": 4, "titleFontSize": 13.5},
    "axisY": {"labelPadding": 0, "titlePadding": 0, "titleFontSize": 13},
    "title": {"font": "Liberation Sans", "fontSize": 20, "fontWeight": "bold", "anchor": "start", "frame": "group", "dx": -29, "color": "black", "offset": 4},
    "legend": {
      "symbolSize": 144, "symbolOpacity": 1, "symbolStrokeColor": "#27b327", "symbolStrokeWidth": 1.6,
      "labelFont": "Liberation Sans", "labelFontSize": 13.5, "labelColor": "black", "labelOffset": 5,
      "rowPadding": 1.5, "padding": 0
    }
  }
}
